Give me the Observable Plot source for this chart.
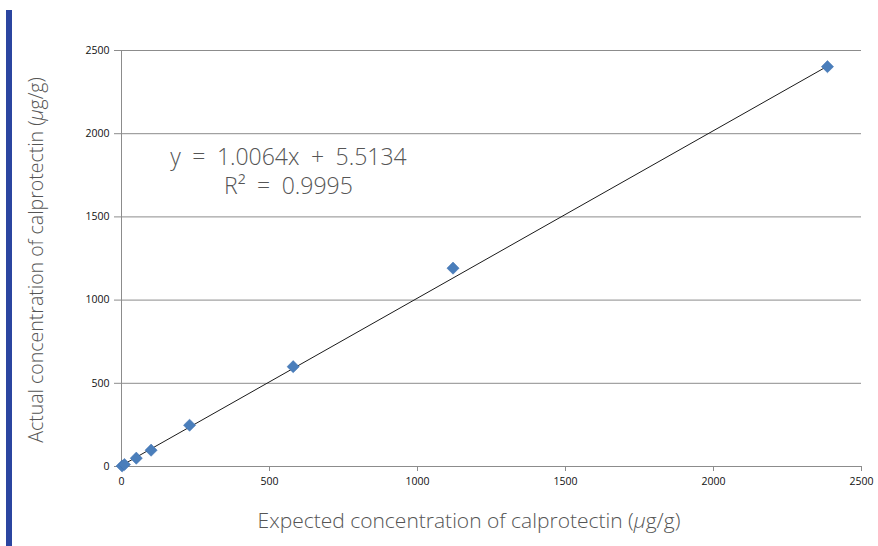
<!DOCTYPE html>
<html>
<head>
<meta charset="utf-8">
<script src="https://cdn.jsdelivr.net/npm/d3@7"></script>
<script src="https://cdn.jsdelivr.net/npm/@observablehq/plot@0.6"></script>
<style>
  html, body { margin: 0; padding: 0; background: #fff; }
  #wrap { position: relative; width: 878px; height: 546px; overflow: hidden; }
  #bar { position: absolute; left: 6px; top: 10px; width: 6px; height: 540px; background: #2b45a0; }
  #chart { position: absolute; left: 0; top: 0; }
</style>
</head>
<body>
<div id="wrap"><div id="bar"></div><div id="chart"></div></div>
<script>
const expected = [2, 10, 50, 100, 230, 580, 1120, 2385];
const actual   = [3, 12, 50, 98, 248, 600, 1192, 2403];
const xTicks = [0, 500, 1000, 1500, 2000, 2500];
const yTicks = [0, 500, 1000, 1500, 2000, 2500];
const slope = 1.0064, intercept = 5.5134, r2 = "0.9995";
const xTitle = ["Expected concentration of calprotectin (", "µ", "g/g)"];
const yTitle = ["Actual concentration of calprotectin (", "µ", "g/g)"];

const pts = expected.map((x, i) => ({x, y: actual[i]}));
const fitX = [0, d3.max(expected)];
const fit = fitX.map(x => ({x, y: slope * x + intercept}));

const font = "Open Sans, DejaVu Sans, sans-serif";
const sp = "\u2002";

const chart = Plot.plot({
  width: 878,
  height: 546,
  marginLeft: 121,
  marginRight: 17,
  marginTop: 50,
  marginBottom: 80,
  style: {fontFamily: font, fontSize: "10.5px", color: "#111", background: "transparent"},
  x: {domain: [0, 2500], label: null},
  y: {domain: [0, 2500], label: null},
  marks: [
    Plot.gridY(yTicks.filter(d => d > 0), {stroke: "#8c8c8c", strokeOpacity: 1, strokeWidth: 1}),
    Plot.ruleX([0], {stroke: "#8c8c8c"}),
    Plot.ruleY([0], {stroke: "#8c8c8c"}),
    Plot.axisX({ticks: xTicks, tickFormat: d3.format("d"), tickSize: 5, tickPadding: 6, stroke: "#8c8c8c", label: null}),
    Plot.axisY({ticks: yTicks, tickFormat: d3.format("d"), tickSize: 7, tickPadding: 5, stroke: "#8c8c8c", label: null}),
    Plot.line(fit, {x: "x", y: "y", stroke: "#1a1a1a", strokeWidth: 1}),
    Plot.dot(pts, {x: "x", y: "y", symbol: "diamond2", r: 5.5, fill: "#4a7ebb", stroke: "#3d6fae", strokeWidth: 0.5}),
    Plot.text([{x: 564, y: 1855, t: `y${sp}=${sp}${slope}x${sp}+${sp}${intercept}`}, {x: 564, y: 1680, t: `R²${sp}=${sp}${r2}`}],
      {x: "x", y: "y", text: "t", fontSize: 23, fontWeight: 300, fill: "#555", fontFamily: font, textAnchor: "middle"})
  ]
});
document.getElementById("chart").appendChild(chart);

const svg = d3.select(chart);
function addTitle(parts, x, y, rotate, size) {
  const t = svg.append("text")
    .attr("transform", `translate(${x},${y})` + (rotate ? " rotate(-90)" : ""))
    .attr("text-anchor", "middle")
    .attr("font-family", font)
    .attr("font-size", size)
    .attr("font-weight", 300)
    .attr("fill", "#555");
  t.append("tspan").text(parts[0]);
  t.append("tspan").attr("font-style", "italic").text(parts[1]);
  t.append("tspan").text(parts[2]);
}
addTitle(xTitle, 469, 528, false, 21);
addTitle(yTitle, 43, 260, true, 19.5);
</script>
</body>
</html>
